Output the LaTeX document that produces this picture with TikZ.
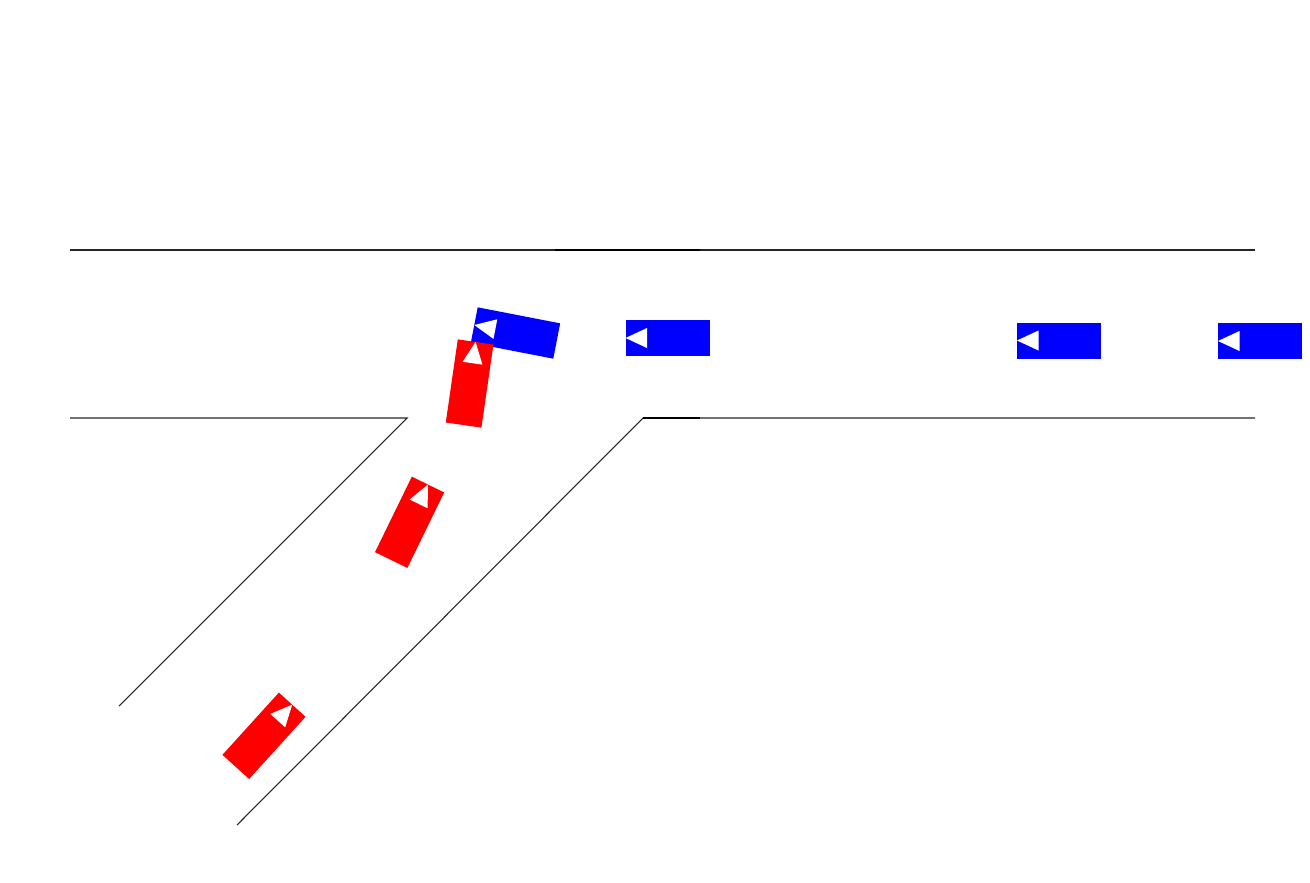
\documentclass[tikz,border=0pt]{standalone}
\begin{document}
\begin{tikzpicture}[x=0.75pt,y=-0.75pt,
  road/.style={black!85, line width=0.8pt},
  roadthick/.style={black, line width=1.5pt},
  carbody/.style={fill=#1, draw=none},
  arrowtri/.style={fill=white, draw=none},
  pics/car/.style={code={
    \fill[carbody=#1] (-42,-18) rectangle (42,18);
    \fill[arrowtri] (-42,0) -- (-20.5,-10) -- (-20.5,10) -- cycle;
  }}]
\useasboundingbox (0,0) rectangle (1310,882);
% main road edges
\coordinate (tl) at (70,250);
\coordinate (tr) at (1255,250);
\coordinate (bl) at (70,418);
\coordinate (bj) at (407,418);
\coordinate (bk) at (643,418);
\coordinate (br) at (1255,418);
\coordinate (d1) at (119,706);
\coordinate (d2) at (237,825);
\coordinate (t1) at (555,250);
\coordinate (t2) at (700,250);
\coordinate (b2) at (700,418);
\draw[road] (tl) -- (tr);
\draw[roadthick] (t1) -- (t2);
\draw[road] (bl) -- (bj) -- (d1);
\draw[road] (d2) -- (bk) -- (br);
\draw[roadthick] (bk) -- (b2);
% blue cars
\pic at (667.5,338) {car=blue};
\pic at (1059,340.5) {car=blue};
\pic at (1260,341) {car=blue};
\pic[rotate=-11] at (515.5,333) {car=blue};
% red cars
\pic[rotate=-98.2] at (469.6,383.5) {car=red};
\pic[rotate=-116] at (409.6,522.3) {car=red};
\pic[rotate=-132.2] at (264,735.8) {car=red};
\end{tikzpicture}
\end{document}
